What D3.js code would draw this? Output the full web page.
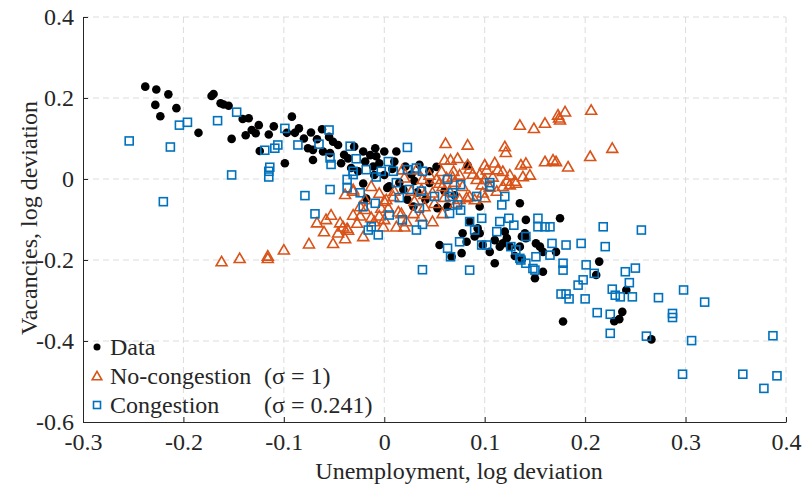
<!DOCTYPE html>
<html><head><meta charset="utf-8">
<script src="https://cdn.jsdelivr.net/npm/d3@7"></script>
<style>body{margin:0;background:#fff}svg{display:block}text{font-family:"Liberation Serif","Times New Roman",serif;fill:#262626}</style>
</head><body><svg id="c" width="804" height="487"></svg>
<script>
const xTicks=[-0.3,-0.2,-0.1,0,0.1,0.2,0.3,0.4];
const yTicks=[-0.6,-0.4,-0.2,0,0.2,0.4];
const dataPts=[[-0.238,0.228],[-0.227,0.221],[-0.215,0.209],[-0.228,0.183],[-0.207,0.175],[-0.223,0.155],[-0.185,0.114],[-0.172,0.205],[-0.170,0.210],[-0.163,0.187],[-0.160,0.184],[-0.155,0.181],[-0.141,0.148],[-0.135,0.150],[-0.138,0.108],[-0.132,0.121],[-0.128,0.113],[-0.152,0.099],[-0.124,0.069],[-0.125,0.133],[-0.092,0.154],[-0.097,0.114],[-0.089,0.114],[-0.073,0.115],[-0.062,0.123],[-0.067,0.098],[-0.055,0.104],[-0.051,0.092],[-0.046,0.084],[-0.076,0.076],[-0.071,0.072],[-0.061,0.068],[-0.054,0.064],[-0.071,0.047],[-0.099,0.039],[-0.043,0.039],[-0.036,0.051],[-0.033,0.027],[-0.021,0.068],[-0.014,0.059],[-0.019,0.043],[-0.009,0.076],[-0.008,0.056],[0.000,0.068],[-0.005,0.039],[-0.011,0.031],[0.012,0.068],[0.010,0.043],[-0.026,0.019],[0.005,-0.018],[0.015,-0.009],[0.021,0.031],[0.027,0.011],[0.019,-0.026],[0.033,-0.033],[0.041,-0.051],[0.023,-0.051],[0.035,0.035],[0.045,0.019],[0.083,0.033],[0.063,-0.068],[0.053,-0.072],[0.029,-0.068],[0.095,-0.068],[0.135,-0.060],[0.141,-0.101],[0.175,-0.097],[0.055,-0.163],[0.078,-0.134],[0.085,-0.105],[0.093,-0.122],[0.090,-0.142],[0.095,-0.134],[0.082,-0.155],[0.077,-0.183],[0.067,-0.192],[0.098,-0.163],[0.110,-0.151],[0.118,-0.159],[0.122,-0.146],[0.125,-0.167],[0.115,-0.167],[0.137,-0.142],[0.141,-0.146],[0.135,-0.167],[0.151,-0.159],[0.158,-0.180],[0.171,-0.180],[0.110,-0.208],[0.150,-0.245],[0.158,-0.229],[0.140,-0.134],[0.137,-0.198],[0.155,-0.167],[0.214,-0.204],[0.211,-0.237],[0.241,-0.274],[0.237,-0.328],[0.234,-0.346],[0.229,-0.351],[0.178,-0.352],[0.266,-0.396],[-0.021,-0.011],[-0.018,-0.048],[0.003,-0.022],[0.000,0.010],[0.008,0.025],[-0.010,0.010],[0.030,-0.005],[0.045,-0.010],[0.052,0.030],[0.060,-0.030],[0.070,-0.040],[-0.040,0.060],[-0.030,0.080],[-0.080,0.100],[-0.085,0.125],[-0.110,0.130],[-0.115,0.110],[0.105,-0.180],[0.130,-0.190],[0.120,-0.130]];
const noCongPts=[[-0.162,-0.204],[-0.144,-0.196],[-0.116,-0.190],[-0.116,-0.196],[-0.100,-0.175],[-0.075,-0.160],[-0.051,-0.159],[-0.060,-0.130],[-0.067,-0.108],[-0.058,-0.100],[-0.053,-0.089],[-0.044,-0.108],[-0.041,-0.118],[-0.037,-0.122],[-0.046,-0.133],[-0.039,-0.147],[-0.036,-0.126],[-0.027,-0.109],[-0.021,-0.142],[-0.024,-0.091],[-0.013,-0.095],[-0.019,-0.075],[-0.013,-0.018],[0.000,-0.055],[-0.005,-0.091],[-0.001,-0.118],[0.004,-0.072],[0.014,-0.081],[0.012,-0.118],[0.020,-0.118],[0.022,-0.105],[-0.031,-0.030],[-0.039,-0.038],[0.009,-0.043],[-0.031,-0.089],[-0.031,-0.026],[-0.024,-0.068],[-0.019,-0.051],[0.002,-0.051],[0.018,0.023],[0.020,0.003],[0.032,0.023],[0.038,-0.001],[-0.003,-0.072],[0.061,0.088],[0.083,0.084],[0.135,0.133],[0.149,0.125],[0.120,0.080],[0.121,0.066],[0.060,0.047],[0.066,0.047],[0.073,0.051],[0.083,0.035],[0.136,0.035],[0.141,0.039],[0.138,0.006],[0.113,0.023],[0.118,0.019],[0.102,0.023],[0.095,0.011],[0.057,0.019],[0.069,0.019],[0.092,-0.001],[0.100,-0.001],[0.122,-0.005],[0.130,-0.005],[0.052,-0.001],[0.062,0.003],[0.160,0.138],[0.175,0.146],[0.180,0.166],[0.173,0.158],[0.206,0.170],[0.160,0.043],[0.168,0.047],[0.171,0.043],[0.183,0.030],[0.205,0.056],[0.227,0.076],[0.131,-0.010],[0.125,-0.014],[0.100,-0.046],[0.090,-0.051],[0.082,-0.046],[0.097,-0.014],[0.078,-0.018],[0.058,-0.018],[0.048,-0.034],[0.037,-0.026],[0.040,-0.068],[0.048,-0.105],[0.058,-0.085],[0.037,-0.093],[0.071,-0.060],[0.118,-0.018],[0.098,-0.034],[0.085,-0.043],[0.017,-0.085],[0.029,-0.085],[0.174,0.151],[0.027,-0.030],[0.040,-0.038],[0.075,-0.050],[0.068,0.005],[0.108,0.005],[0.045,0.010],[0.055,-0.010],[0.065,-0.030],[0.075,0.010],[0.085,0.025],[0.105,-0.020],[0.112,-0.030],[0.125,0.010],[0.060,-0.045],[0.050,-0.060],[0.030,-0.055],[0.010,-0.030],[-0.005,-0.035],[0.000,-0.100],[-0.010,-0.105],[0.070,-0.008],[0.088,0.012],[0.110,0.040],[0.145,0.010],[0.100,0.035]];
const congPts=[[-0.254,0.094],[-0.213,0.079],[-0.204,0.133],[-0.196,0.140],[-0.166,0.144],[-0.147,0.165],[-0.152,0.010],[-0.220,-0.056],[-0.115,0.005],[-0.115,0.019],[-0.079,-0.041],[-0.119,0.071],[-0.109,0.076],[-0.106,0.084],[-0.114,0.029],[-0.099,0.125],[-0.086,0.084],[-0.069,-0.086],[-0.054,-0.026],[-0.055,0.121],[-0.065,0.086],[-0.054,0.052],[-0.053,0.036],[-0.034,0.081],[-0.028,0.050],[-0.037,-0.001],[-0.037,-0.022],[-0.031,0.019],[-0.031,0.011],[-0.024,-0.034],[-0.018,0.023],[-0.008,0.005],[-0.009,-0.060],[-0.021,-0.068],[-0.016,-0.126],[-0.013,-0.118],[-0.006,-0.138],[0.005,-0.089],[0.018,-0.101],[0.032,-0.126],[0.004,0.043],[-0.003,0.019],[0.009,0.019],[0.023,0.078],[0.012,-0.009],[0.023,0.023],[0.032,0.027],[0.038,0.019],[0.015,-0.046],[0.025,-0.026],[0.037,-0.030],[0.035,-0.072],[0.038,-0.112],[0.038,-0.224],[0.063,-0.001],[0.065,-0.043],[0.050,-0.043],[0.068,-0.034],[0.076,-0.014],[0.073,-0.064],[0.065,-0.085],[0.076,-0.077],[0.092,-0.043],[0.105,-0.009],[0.120,-0.043],[0.117,-0.064],[0.124,-0.097],[0.129,-0.114],[0.115,-0.105],[0.112,-0.130],[0.097,-0.097],[0.085,-0.105],[0.090,-0.126],[0.097,-0.163],[0.102,-0.163],[0.075,-0.155],[0.063,-0.171],[0.066,-0.192],[0.085,-0.225],[0.126,-0.167],[0.131,-0.175],[0.141,-0.142],[0.153,-0.097],[0.153,-0.118],[0.160,-0.118],[0.165,-0.118],[0.167,-0.159],[0.181,-0.163],[0.196,-0.159],[0.218,-0.118],[0.220,-0.167],[0.135,-0.196],[0.141,-0.208],[0.150,-0.225],[0.178,-0.208],[0.178,-0.225],[0.201,-0.212],[0.198,-0.249],[0.193,-0.262],[0.105,-0.018],[0.256,-0.126],[0.209,-0.233],[0.176,-0.284],[0.181,-0.284],[0.184,-0.296],[0.200,-0.296],[0.212,-0.330],[0.225,-0.334],[0.227,-0.272],[0.230,-0.287],[0.235,-0.291],[0.240,-0.229],[0.250,-0.220],[0.244,-0.256],[0.247,-0.291],[0.273,-0.293],[0.298,-0.274],[0.319,-0.304],[0.287,-0.332],[0.287,-0.342],[0.225,-0.381],[0.261,-0.388],[0.306,-0.399],[0.387,-0.387],[0.297,-0.482],[0.357,-0.482],[0.391,-0.486],[0.378,-0.517],[0.148,-0.221],[0.151,-0.192],[0.136,-0.200],[0.165,-0.188]];
const legendLabels=["Data","No-congestion","Congestion"];
const sigmaLabels=["","(σ = 1)","(σ = 0.241)"];
const colors={data:"#000000",noCong:"#D95319",cong:"#0072BD"};

const svg=d3.select("#c");
const L=83,R=786,T=17,B=422;
const x=d3.scaleLinear().domain([-0.3,0.4]).range([L,R]);
const y=d3.scaleLinear().domain([-0.6,0.4]).range([B,T]);
const fmt=d=>d===0?"0":d3.format(".1f")(d).replace("−","-");

// grid
const g=svg.append("g");
g.selectAll(".gx").data(xTicks.slice(1)).enter().append("line")
 .attr("x1",d=>x(d)).attr("x2",d=>x(d)).attr("y1",T).attr("y2",B)
 .attr("stroke","#dcdcdc").attr("stroke-width",1).attr("stroke-dasharray","6,4");
g.selectAll(".gy").data(yTicks.slice(1)).enter().append("line")
 .attr("y1",d=>y(d)).attr("y2",d=>y(d)).attr("x1",L).attr("x2",R)
 .attr("stroke","#dcdcdc").attr("stroke-width",1).attr("stroke-dasharray","6,4");

// axes
const xa=svg.append("g").attr("transform",`translate(0,${B})`)
 .call(d3.axisBottom(x).tickValues(xTicks).tickFormat(fmt).tickSizeInner(-5).tickSizeOuter(0).tickPadding(11));
const ya=svg.append("g").attr("transform",`translate(${L},0)`)
 .call(d3.axisLeft(y).tickValues(yTicks).tickFormat(fmt).tickSizeInner(-5).tickSizeOuter(0).tickPadding(9));
[xa,ya].forEach(a=>{a.select(".domain").attr("stroke","#262626").attr("stroke-width",1);
 a.selectAll(".tick line").attr("stroke","#262626");
 a.selectAll("text").style("font-size","24px").style("font-family","'Liberation Serif',serif").attr("fill","#262626");});

// points
const pg=svg.append("g");
pg.selectAll(".d").data(dataPts).enter().append("circle")
 .attr("cx",d=>x(d[0])).attr("cy",d=>y(d[1])).attr("r",4.3).attr("fill",colors.data);
const tri=d3.symbol().type(d3.symbolTriangle).size(52);
pg.selectAll(".t").data(noCongPts).enter().append("path")
 .attr("d",tri).attr("transform",d=>`translate(${x(d[0])},${y(d[1])+1})`)
 .attr("fill","none").attr("stroke",colors.noCong).attr("stroke-width",1.6);
pg.selectAll(".s").data(congPts).enter().append("rect")
 .attr("x",d=>x(d[0])-4).attr("y",d=>y(d[1])-4).attr("width",8).attr("height",8)
 .attr("fill","none").attr("stroke",colors.cong).attr("stroke-width",1.6);

// legend
const lg=svg.append("g");
const ly=[347,376,405];
lg.append("circle").attr("cx",97).attr("cy",ly[0]).attr("r",3.5).attr("fill",colors.data);
lg.append("path").attr("d",d3.symbol().type(d3.symbolTriangle).size(40)).attr("transform",`translate(97,${ly[1]+1})`).attr("fill","none").attr("stroke",colors.noCong).attr("stroke-width",1.6);
lg.append("rect").attr("x",93.5).attr("y",ly[2]-3.5).attr("width",7).attr("height",7).attr("fill","none").attr("stroke",colors.cong).attr("stroke-width",1.6);
legendLabels.forEach((t,i)=>{
 lg.append("text").attr("x",110).attr("y",ly[i]+8).style("font-size","24px").text(t);
 if(sigmaLabels[i]) lg.append("text").attr("x",264).attr("y",ly[i]+8).style("font-size","24px").text(sigmaLabels[i]);
});

// axis labels
svg.append("text").attr("x",459).attr("y",479).attr("text-anchor","middle").style("font-size","24px").text("Unemployment, log deviation");
svg.append("text").attr("transform","translate(37,218) rotate(-90)").attr("text-anchor","middle").style("font-size","24px").text("Vacancies, log deviation");
</script></body></html>
